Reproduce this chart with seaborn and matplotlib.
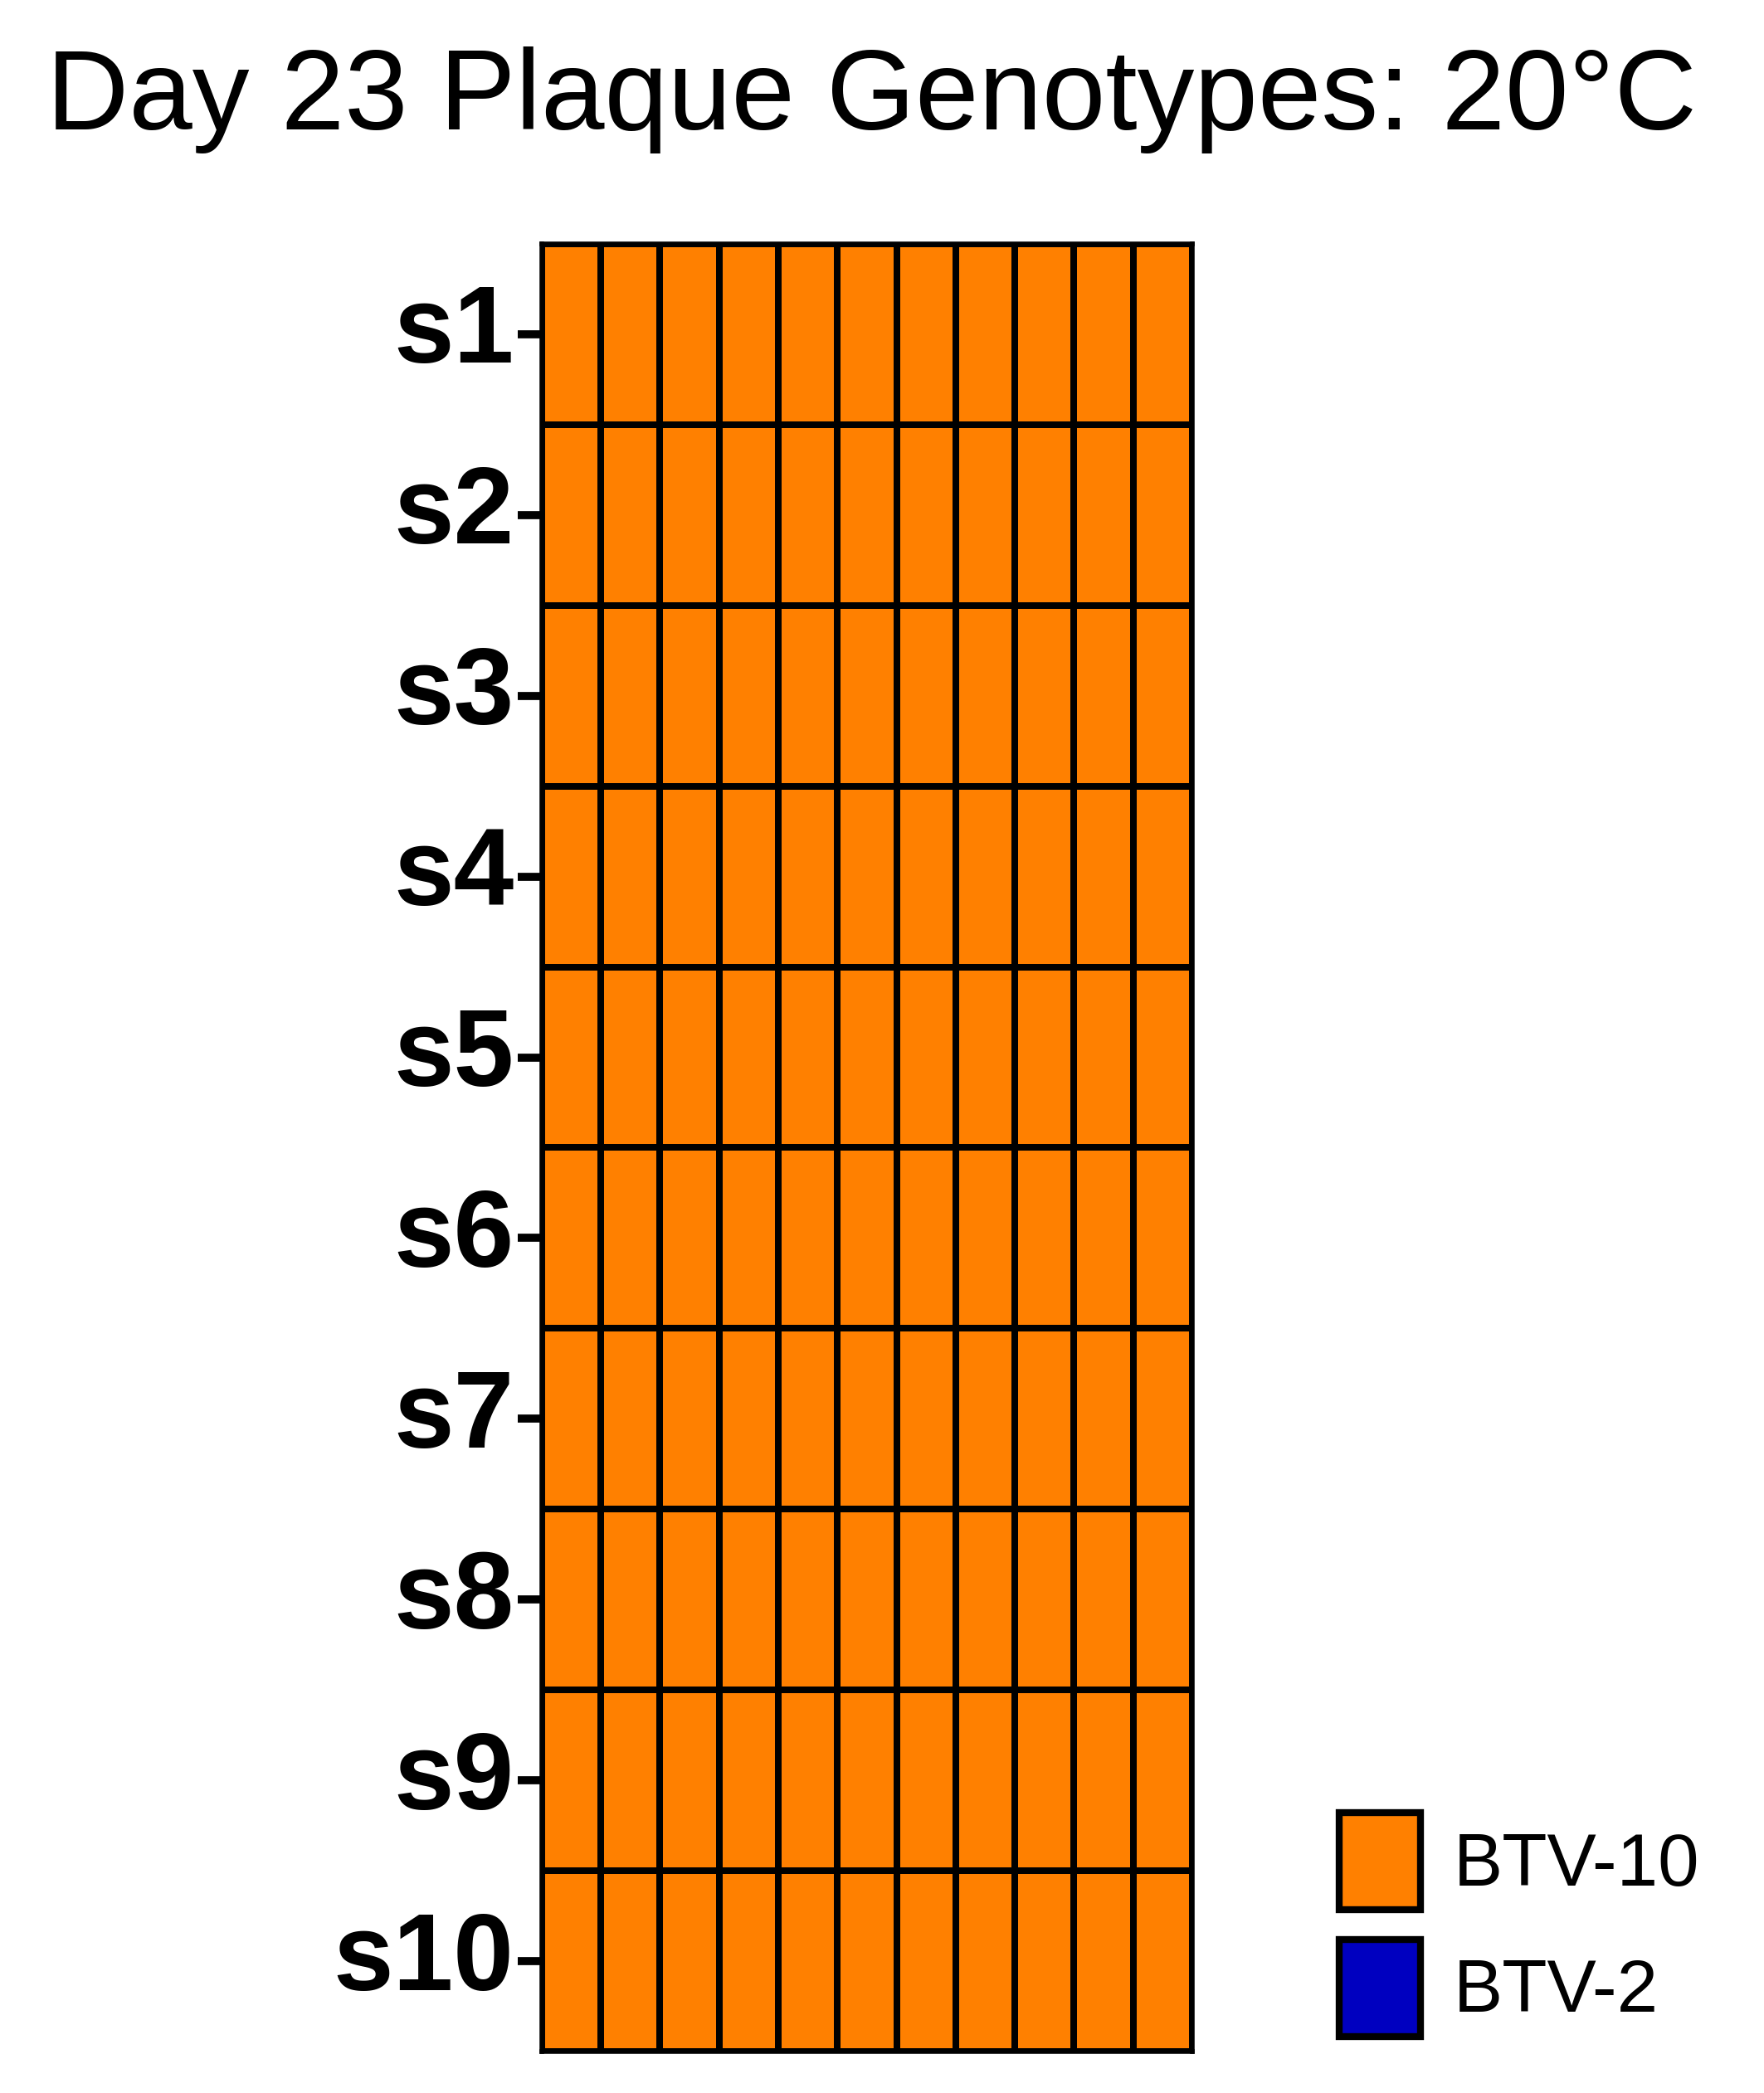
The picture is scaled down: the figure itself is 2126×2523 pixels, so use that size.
import matplotlib
matplotlib.use("Agg")
import matplotlib.pyplot as plt
import numpy as np
import pandas as pd
import seaborn as sns
from matplotlib.colors import ListedColormap
from matplotlib.patches import Patch

segments = ["s1", "s2", "s3", "s4", "s5", "s6", "s7", "s8", "s9", "s10"]
plaques = [str(i) for i in range(1, 12)]
genotypes = ["BTV-10", "BTV-2"]
colors = ["#ff8000", "#0000c0"]

# every segment of every plaque came out BTV-10 at day 23
calls = [["BTV-10"] * len(plaques) for _ in segments]

codes = [[genotypes.index(c) for c in row] for row in calls]
df = pd.DataFrame(codes, index=segments, columns=plaques)

sns.set_theme(style="white")
plt.rcParams["font.family"] = ["Liberation Sans", "DejaVu Sans"]
plt.rcParams["text.color"] = "black"

fig = plt.figure(figsize=(21.26, 25.23), dpi=100)
ax = fig.add_axes([0.3071, 0.0198, 0.3688, 0.8637])

sns.heatmap(df, ax=ax, cmap=ListedColormap(colors), vmin=-0.5, vmax=1.5,
            linewidths=4.5, linecolor="black", cbar=False,
            xticklabels=False, yticklabels=segments)

for s in ax.spines.values():
    s.set_visible(True)
    s.set_linewidth(4)
    s.set_color("black")

ax.set_xlabel("")
ax.set_ylabel("")
ax.tick_params(axis="y", left=True, length=21, width=7, pad=3, color="black",
               labelsize=94, rotation=0)
ax.tick_params(axis="x", bottom=False)
for t in ax.get_yticklabels():
    t.set_fontweight("bold")
    t.set_color("black")

fig.text(0.494, 0.938, "Day 23 Plaque Genotypes: 20°C", ha="center",
         va="baseline", fontsize=99, color="black")

handles = [Patch(facecolor=c, edgecolor="black", linewidth=6) for c in colors]
leg = fig.legend(handles, genotypes, loc="upper left",
                 bbox_to_anchor=(1614 / 2126, 1 - 2185 / 2523),
                 frameon=False, fontsize=64, borderpad=0, borderaxespad=0,
                 handlelength=1.1, handleheight=1.65, handletextpad=0.45,
                 labelspacing=0.4)
for t in leg.get_texts():
    t.set_color("black")

fig.savefig("out.png", dpi=100)
